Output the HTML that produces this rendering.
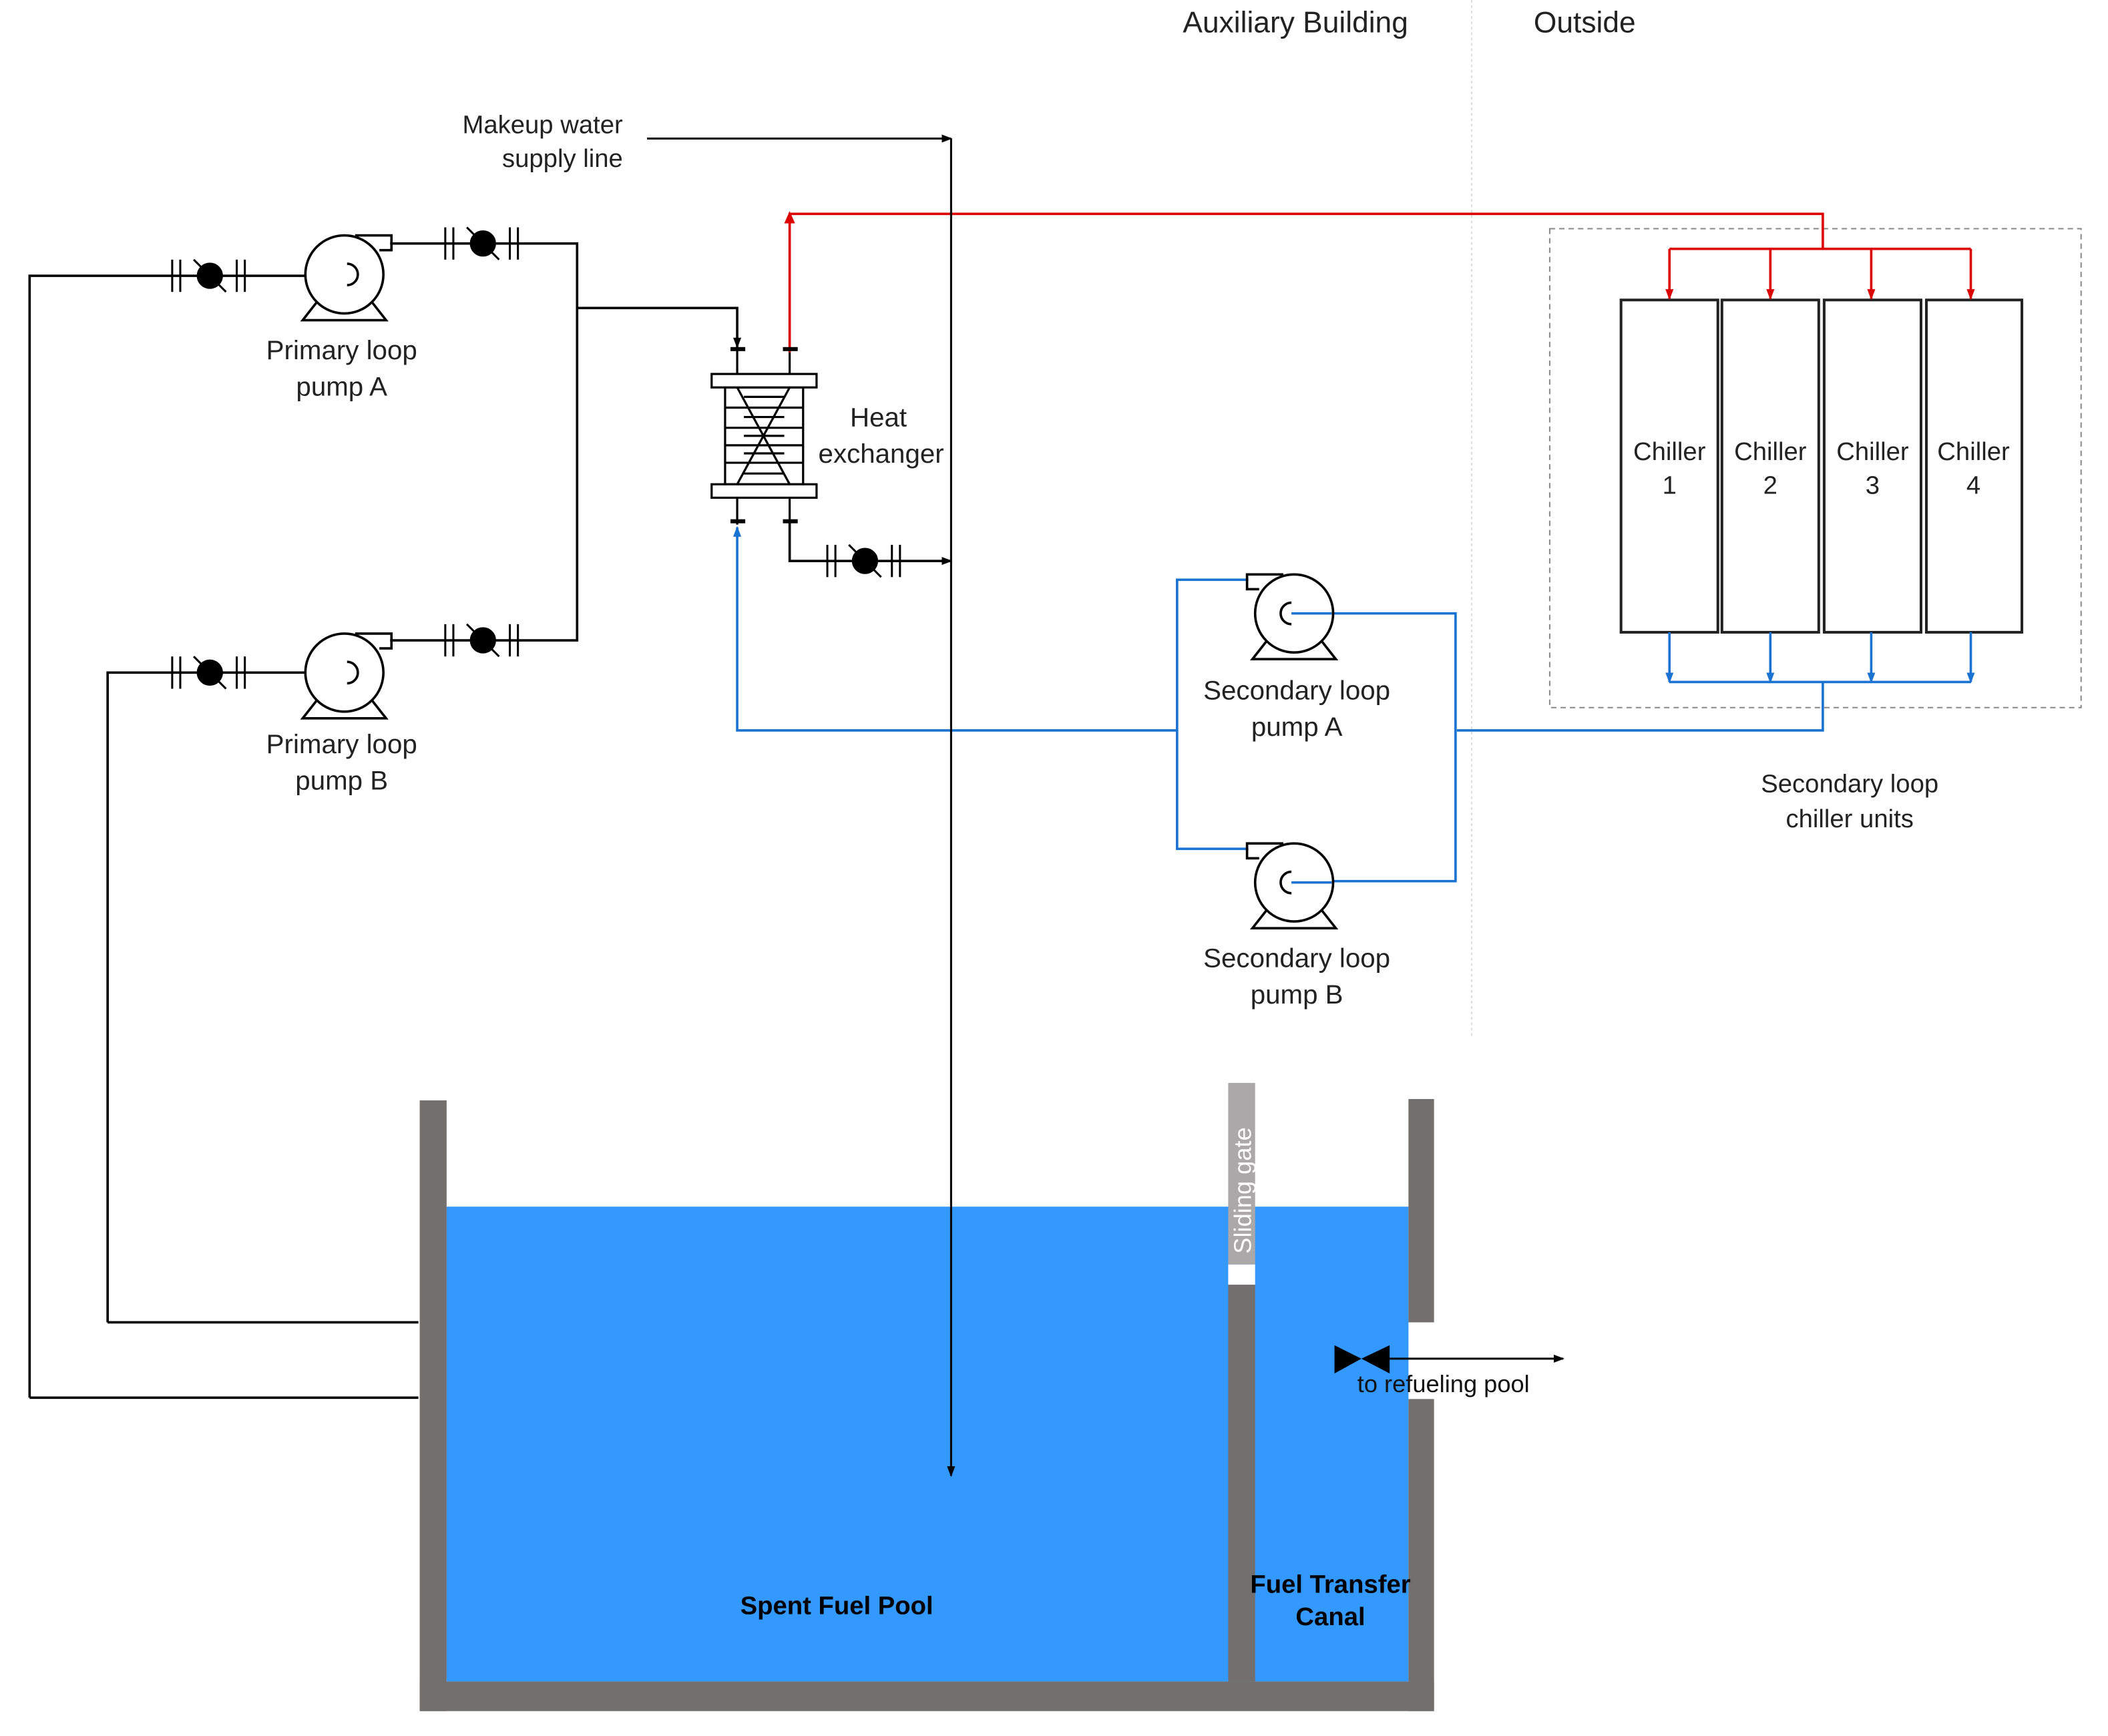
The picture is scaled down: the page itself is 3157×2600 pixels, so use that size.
<!DOCTYPE html>
<html><head><meta charset="utf-8"><style>html,body{margin:0;padding:0;background:#fff}svg{display:block}</style></head>
<body>
<svg width="3157" height="2600" viewBox="0 0 1567 1290.5" preserveAspectRatio="none" xmlns="http://www.w3.org/2000/svg" font-family="Liberation Sans, Arial, sans-serif">
<defs>
<marker id="ab" markerWidth="8" markerHeight="8" refX="7" refY="4" orient="auto" markerUnits="userSpaceOnUse"><path d="M0,1 L8,4 L0,7 z" fill="#000"/></marker>
<marker id="ar" markerWidth="8" markerHeight="8" refX="7" refY="4" orient="auto" markerUnits="userSpaceOnUse"><path d="M0,1 L8,4 L0,7 z" fill="#d00"/></marker>
<marker id="abl" markerWidth="8" markerHeight="8" refX="7" refY="4" orient="auto" markerUnits="userSpaceOnUse"><path d="M0,1 L8,4 L0,7 z" fill="#1a73d0"/></marker>
<g id="valve" stroke="#000" stroke-width="1.5">
<line x1="-28" y1="-12" x2="-28" y2="12"/><line x1="-22" y1="-12" x2="-22" y2="12"/>
<line x1="20" y1="-12" x2="20" y2="12"/><line x1="26" y1="-12" x2="26" y2="12"/>
<circle r="9" fill="#000"/><line x1="-12" y1="-12" x2="12" y2="12"/>
</g>
<g id="pump" stroke="#000" stroke-width="1.8" fill="#fff">
<path d="M-20,20 L-31,34 L31,34 L20,20" />
<circle r="29"/>
<path d="M8,-29 H35 V-18 H26" fill="none"/>
<path d="M2,-8 A8,8 0 0 1 2,8" fill="none"/>
</g>
<g id="pumpm" stroke="#000" stroke-width="1.8" fill="#fff">
<path d="M-20,20 L-31,34 L31,34 L20,20" />
<circle r="29"/>
<path d="M-8,-29 H-35 V-18 H-26" fill="none"/>
<path d="M-2,-8 A8,8 0 0 0 -2,8" fill="none"/>
</g>
</defs>

<text x="963" y="24" font-size="22" text-anchor="middle" fill="#222">Auxiliary Building</text>
<text x="1178" y="24" font-size="22" text-anchor="middle" fill="#222">Outside</text>
<line x1="1094" y1="0" x2="1094" y2="770" stroke="#ddd" stroke-width="1" stroke-dasharray="2,2"/>

<text x="463" y="99" font-size="19" text-anchor="end" fill="#222">Makeup water</text>
<text x="463" y="124" font-size="19" text-anchor="end" fill="#222">supply line</text>
<polyline points="481,103 707,103" fill="none" stroke="#000" stroke-width="1.5" marker-end="url(#ab)"/>

<rect x="1152" y="170" width="395" height="356" fill="none" stroke="#888" stroke-width="1" stroke-dasharray="4,3"/>
<g stroke="#222" stroke-width="2" fill="#fff">
<rect x="1205" y="223" width="72" height="247"/><rect x="1280" y="223" width="72" height="247"/>
<rect x="1356" y="223" width="72" height="247"/><rect x="1432" y="223" width="71" height="247"/>
</g>
<g font-size="19" text-anchor="middle" fill="#222">
<text x="1241" y="342">Chiller</text><text x="1241" y="367">1</text>
<text x="1316" y="342">Chiller</text><text x="1316" y="367">2</text>
<text x="1392" y="342">Chiller</text><text x="1392" y="367">3</text>
<text x="1467" y="342">Chiller</text><text x="1467" y="367">4</text>
<text x="1375" y="589">Secondary loop</text><text x="1375" y="615">chiller units</text>
</g>

<g stroke="#d00" stroke-width="1.8" fill="none">
<polyline points="587,262 587,159 1355,159 1355,185"/>
<line x1="1241" y1="185" x2="1465" y2="185"/>
<line x1="1241" y1="185" x2="1241" y2="222" marker-end="url(#ar)"/>
<line x1="1316" y1="185" x2="1316" y2="222" marker-end="url(#ar)"/>
<line x1="1391" y1="185" x2="1391" y2="222" marker-end="url(#ar)"/>
<line x1="1465" y1="185" x2="1465" y2="222" marker-end="url(#ar)"/>
</g>
<path d="M583,166 L587,157 L591,166z" fill="#d00"/>

<g stroke="#1a73d0" stroke-width="1.8" fill="none">
<line x1="1241" y1="470" x2="1241" y2="507" marker-end="url(#abl)"/>
<line x1="1316" y1="470" x2="1316" y2="507" marker-end="url(#abl)"/>
<line x1="1391" y1="470" x2="1391" y2="507" marker-end="url(#abl)"/>
<line x1="1465" y1="470" x2="1465" y2="507" marker-end="url(#abl)"/>
<polyline points="1241,507 1465,507"/>
<polyline points="1355,507 1355,543 1083,543"/>
<polyline points="875,543 548,543 548,392" marker-end="url(#abl)"/>
<polyline points="928,431 875,431 875,631 928,631"/>
<polyline points="960,456 1082,456 1082,655 960,655"/>
</g>

<g stroke="#000" stroke-width="1.8" fill="none">
<polyline points="22,1039 22,205 256,205"/>
<polyline points="311,1039 22,1039"/>
<polyline points="80,983 80,500 256,500"/>
<polyline points="311,983 80,983"/>
<polyline points="290,181 429,181 429,476 290,476"/>
<polyline points="429,229 548,229 548,258" marker-end="url(#ab)"/>
<polyline points="587,388 587,417 707,417" marker-end="url(#ab)"/>
</g>
<use href="#valve" x="156" y="205"/>
<use href="#valve" x="156" y="500"/>
<use href="#valve" x="359" y="181"/>
<use href="#valve" x="359" y="476"/>
<use href="#valve" x="643" y="417"/>
<use href="#pump" x="256" y="204"/>
<use href="#pump" x="256" y="500"/>
<use href="#pumpm" x="962" y="456"/>
<use href="#pumpm" x="962" y="656"/>
<line x1="960" y1="456" x2="990" y2="456" stroke="#1a73d0" stroke-width="1.8"/>
<line x1="960" y1="656" x2="990" y2="656" stroke="#1a73d0" stroke-width="1.8"/>

<g stroke="#000" stroke-width="1.6" fill="#fff">
<line x1="548" y1="258" x2="548" y2="278"/><line x1="587" y1="262" x2="587" y2="278"/>
<line x1="548" y1="370" x2="548" y2="390"/><line x1="587" y1="370" x2="587" y2="390"/>
<rect x="539" y="288" width="58" height="72"/>
<rect x="529" y="278" width="78" height="10"/>
<rect x="529" y="360" width="78" height="10"/>
<g fill="none">
<line x1="539" y1="303" x2="597" y2="303"/><line x1="539" y1="318" x2="597" y2="318"/>
<line x1="539" y1="331" x2="597" y2="331"/><line x1="539" y1="344" x2="597" y2="344"/>
<line x1="553" y1="295" x2="583" y2="295"/><line x1="553" y1="310" x2="583" y2="310"/>
<line x1="553" y1="324" x2="583" y2="324"/><line x1="553" y1="337" x2="583" y2="337"/>
<line x1="553" y1="352" x2="583" y2="352"/>
<line x1="548" y1="288" x2="587" y2="360"/><line x1="587" y1="288" x2="548" y2="360"/>
</g>
</g>
<g fill="#000"><rect x="543" y="258" width="11" height="3"/><rect x="582" y="258" width="11" height="3"/><rect x="543" y="386" width="11" height="3"/><rect x="582" y="386" width="11" height="3"/></g>

<g font-size="20" text-anchor="middle" fill="#222">
<text x="254" y="267">Primary loop</text><text x="254" y="294">pump A</text>
<text x="254" y="560">Primary loop</text><text x="254" y="587">pump B</text>
<text x="653" y="317">Heat</text><text x="655" y="344">exchanger</text>
<text x="964" y="520">Secondary loop</text><text x="964" y="547">pump A</text>
<text x="964" y="719">Secondary loop</text><text x="964" y="746">pump B</text>
</g>

<rect x="332" y="897" width="715" height="353" fill="#3399ff"/>
<g fill="#736f6e">
<rect x="312" y="818" width="20" height="454"/>
<rect x="312" y="1250" width="754" height="22"/>
<rect x="913" y="955" width="20" height="295"/>
<rect x="1047" y="817" width="19" height="166"/>
<rect x="1047" y="1040" width="19" height="232"/>
</g>
<rect x="913" y="805" width="20" height="135" fill="#aaa8a8"/>
<rect x="913" y="940" width="20" height="15" fill="#fff"/>
<text transform="translate(930,932) rotate(-90)" font-size="18" fill="#fff">Sliding gate</text>
<line x1="707" y1="103" x2="707" y2="1097" stroke="#000" stroke-width="1.5" marker-end="url(#ab)"/>
<path d="M992,1000 L1012,1010 L992,1021z M1033,1000 L1012,1010 L1033,1021z" fill="#000"/>
<line x1="1033" y1="1010" x2="1162" y2="1010" stroke="#000" stroke-width="1.5" marker-end="url(#ab)"/>
<text x="1073" y="1035" font-size="18" text-anchor="middle" fill="#111">to refueling pool</text>
<g font-size="19" font-weight="bold" text-anchor="middle" fill="#000">
<text x="622" y="1200">Spent Fuel Pool</text>
<text x="989" y="1184">Fuel Transfer</text><text x="989" y="1208">Canal</text>
</g>
</svg>
</body></html>
